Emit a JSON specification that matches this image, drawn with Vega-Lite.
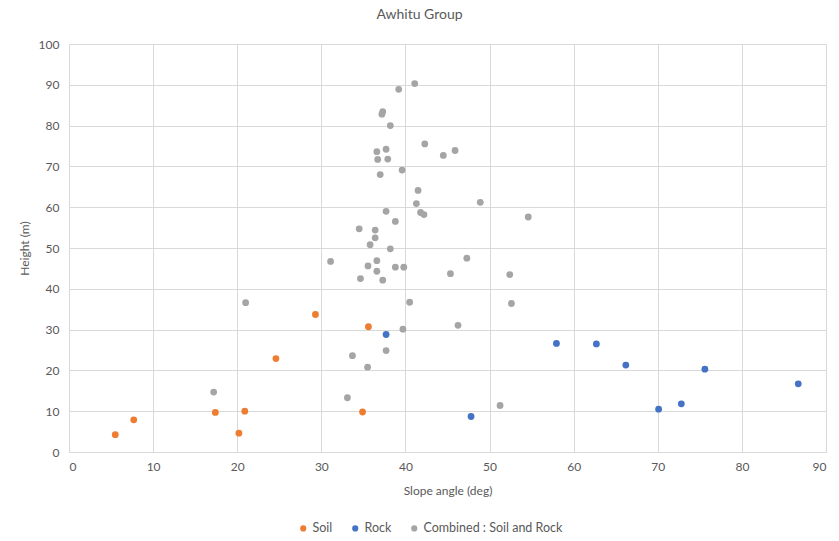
{
  "$schema": "https://vega.github.io/schema/vega-lite/v6.json",
  "width": 757,
  "height": 408,
  "autosize": {"type": "none"},
  "padding": {"left": 69, "top": 44, "right": 13, "bottom": 89},
  "background": "white",
  "title": {
    "text": "Awhitu Group",
    "anchor": "middle",
    "dx": -28,
    "offset": 16,
    "font": "Lato",
    "fontSize": 14,
    "fontWeight": "normal",
    "color": "#595959"
  },
  "config": {
    "view": {"stroke": null},
    "font": "Lato"
  },
  "data": {
    "values": [
      {"series": "Soil", "slope": 5.5, "height": 4.25},
      {"series": "Soil", "slope": 7.7, "height": 7.9},
      {"series": "Soil", "slope": 17.4, "height": 9.7},
      {"series": "Soil", "slope": 20.2, "height": 4.6},
      {"series": "Soil", "slope": 20.9, "height": 10.0},
      {"series": "Soil", "slope": 24.6, "height": 22.9},
      {"series": "Soil", "slope": 29.3, "height": 33.7},
      {"series": "Soil", "slope": 35.6, "height": 30.7},
      {"series": "Soil", "slope": 34.9, "height": 9.8},
      {"series": "Rock", "slope": 37.7, "height": 28.8},
      {"series": "Rock", "slope": 47.8, "height": 8.7},
      {"series": "Rock", "slope": 57.95, "height": 26.6},
      {"series": "Rock", "slope": 62.7, "height": 26.5},
      {"series": "Rock", "slope": 66.2, "height": 21.3},
      {"series": "Rock", "slope": 70.1, "height": 10.5},
      {"series": "Rock", "slope": 72.8, "height": 11.8},
      {"series": "Rock", "slope": 75.6, "height": 20.3},
      {"series": "Rock", "slope": 86.7, "height": 16.7},
      {"series": "Combined : Soil and Rock", "slope": 41.1, "height": 90.3},
      {"series": "Combined : Soil and Rock", "slope": 39.2, "height": 88.9},
      {"series": "Combined : Soil and Rock", "slope": 37.2, "height": 82.8},
      {"series": "Combined : Soil and Rock", "slope": 37.3, "height": 83.4},
      {"series": "Combined : Soil and Rock", "slope": 38.2, "height": 80.0},
      {"series": "Combined : Soil and Rock", "slope": 42.3, "height": 75.5},
      {"series": "Combined : Soil and Rock", "slope": 36.6, "height": 73.6},
      {"series": "Combined : Soil and Rock", "slope": 37.7, "height": 74.2},
      {"series": "Combined : Soil and Rock", "slope": 36.7, "height": 71.7},
      {"series": "Combined : Soil and Rock", "slope": 37.9, "height": 71.8},
      {"series": "Combined : Soil and Rock", "slope": 44.5, "height": 72.7},
      {"series": "Combined : Soil and Rock", "slope": 45.9, "height": 73.9},
      {"series": "Combined : Soil and Rock", "slope": 39.6, "height": 69.1},
      {"series": "Combined : Soil and Rock", "slope": 37.0, "height": 68.0},
      {"series": "Combined : Soil and Rock", "slope": 41.5, "height": 64.1},
      {"series": "Combined : Soil and Rock", "slope": 41.3, "height": 60.9},
      {"series": "Combined : Soil and Rock", "slope": 48.9, "height": 61.2},
      {"series": "Combined : Soil and Rock", "slope": 37.7, "height": 59.0},
      {"series": "Combined : Soil and Rock", "slope": 41.8, "height": 58.7},
      {"series": "Combined : Soil and Rock", "slope": 42.2, "height": 58.2},
      {"series": "Combined : Soil and Rock", "slope": 54.6, "height": 57.6},
      {"series": "Combined : Soil and Rock", "slope": 38.8, "height": 56.5},
      {"series": "Combined : Soil and Rock", "slope": 34.5, "height": 54.7},
      {"series": "Combined : Soil and Rock", "slope": 36.4, "height": 54.4},
      {"series": "Combined : Soil and Rock", "slope": 36.4, "height": 52.5},
      {"series": "Combined : Soil and Rock", "slope": 35.8, "height": 50.8},
      {"series": "Combined : Soil and Rock", "slope": 38.2, "height": 49.8},
      {"series": "Combined : Soil and Rock", "slope": 31.1, "height": 46.7},
      {"series": "Combined : Soil and Rock", "slope": 36.6, "height": 46.9},
      {"series": "Combined : Soil and Rock", "slope": 47.3, "height": 47.5},
      {"series": "Combined : Soil and Rock", "slope": 35.55, "height": 45.6},
      {"series": "Combined : Soil and Rock", "slope": 36.6, "height": 44.3},
      {"series": "Combined : Soil and Rock", "slope": 38.8, "height": 45.3},
      {"series": "Combined : Soil and Rock", "slope": 39.8, "height": 45.3},
      {"series": "Combined : Soil and Rock", "slope": 45.35, "height": 43.7},
      {"series": "Combined : Soil and Rock", "slope": 52.4, "height": 43.5},
      {"series": "Combined : Soil and Rock", "slope": 34.65, "height": 42.5},
      {"series": "Combined : Soil and Rock", "slope": 37.3, "height": 42.1},
      {"series": "Combined : Soil and Rock", "slope": 40.5, "height": 36.7},
      {"series": "Combined : Soil and Rock", "slope": 52.6, "height": 36.4},
      {"series": "Combined : Soil and Rock", "slope": 39.7, "height": 30.1},
      {"series": "Combined : Soil and Rock", "slope": 46.25, "height": 31.05},
      {"series": "Combined : Soil and Rock", "slope": 21.0, "height": 36.6},
      {"series": "Combined : Soil and Rock", "slope": 33.7, "height": 23.6},
      {"series": "Combined : Soil and Rock", "slope": 37.7, "height": 24.85},
      {"series": "Combined : Soil and Rock", "slope": 35.5, "height": 20.8},
      {"series": "Combined : Soil and Rock", "slope": 33.1, "height": 13.3},
      {"series": "Combined : Soil and Rock", "slope": 17.2, "height": 14.7},
      {"series": "Combined : Soil and Rock", "slope": 51.25, "height": 11.4}
    ]
  },
  "mark": {"type": "point", "shape": "circle", "filled": true, "opacity": 1, "size": 46},
  "encoding": {
    "x": {
      "field": "slope",
      "type": "quantitative",
      "scale": {"domain": [0, 90], "nice": false, "zero": true},
      "axis": {
        "title": "Slope angle (deg)",
        "values": [0, 10, 20, 30, 40, 50, 60, 70, 80, 90],
        "grid": true,
        "gridColor": "#D9D9D9",
        "domainColor": "#D9D9D9",
        "ticks": false,
        "labelPadding": 9,
        "labelFontSize": 12,
        "labelColor": "#595959",
        "labelFont": "Lato",
        "titleFont": "Lato",
        "titleFontSize": 12,
        "titleFontWeight": "normal",
        "titleColor": "#595959",
        "titlePadding": 13
      }
    },
    "y": {
      "field": "height",
      "type": "quantitative",
      "scale": {"domain": [0, 100], "nice": false},
      "axis": {
        "title": "Height (m)",
        "values": [0, 10, 20, 30, 40, 50, 60, 70, 80, 90, 100],
        "grid": true,
        "gridColor": "#D9D9D9",
        "domain": false,
        "ticks": false,
        "labelPadding": 10,
        "labelFontSize": 12,
        "labelColor": "#595959",
        "labelFont": "Lato",
        "titleFont": "Lato",
        "titleFontSize": 12,
        "titleFontWeight": "normal",
        "titleColor": "#595959",
        "titlePadding": 7
      }
    },
    "color": {
      "field": "series",
      "type": "nominal",
      "scale": {
        "domain": ["Soil", "Rock", "Combined : Soil and Rock"],
        "range": ["#ED7D31", "#4472C4", "#A5A5A5"]
      },
      "legend": {
        "title": null,
        "orient": "none",
        "direction": "horizontal",
        "legendX": 228,
        "legendY": 478,
        "symbolType": "circle",
        "symbolSize": 38,
        "labelFont": "Lato",
        "labelFontSize": 12.5,
        "labelColor": "#595959",
        "labelOffset": 3,
        "columnPadding": 16
      }
    },
    "order": {"field": "series", "sort": "descending"}
  }
}
